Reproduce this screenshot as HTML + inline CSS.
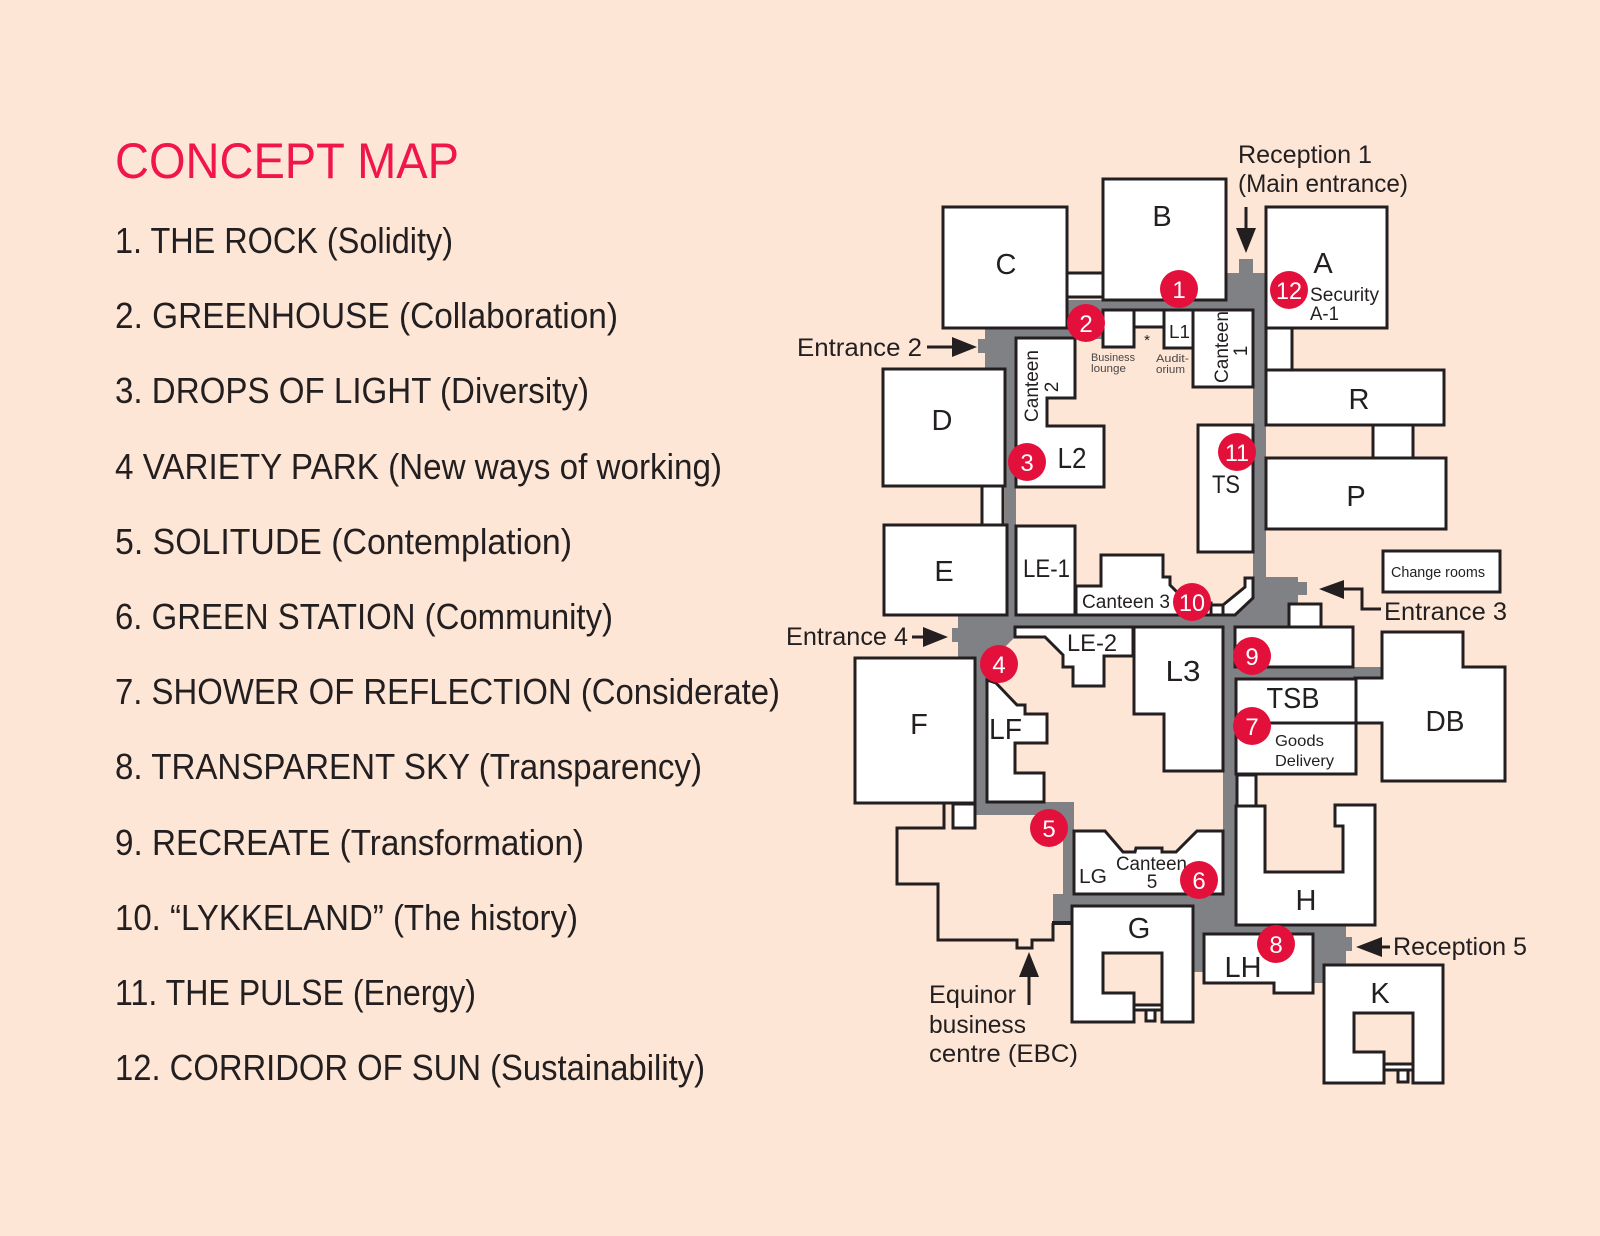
<!DOCTYPE html>
<html><head><meta charset="utf-8"><style>
html,body{margin:0;padding:0;background:#FDE6D6;}
svg{display:block}
text{font-family:"Liberation Sans",sans-serif;fill:#231F20}
</style></head><body>
<svg width="1600" height="1236" viewBox="0 0 1600 1236" xmlns="http://www.w3.org/2000/svg">
<rect width="1600" height="1236" fill="#FDE6D6"/>

<!-- LEFT LIST -->
<text x="115" y="178" font-size="50" textLength="344" lengthAdjust="spacingAndGlyphs" style="fill:#F0164A">CONCEPT MAP</text>
<g font-size="36">
<text x="115" y="253" textLength="338" lengthAdjust="spacingAndGlyphs">1. THE ROCK (Solidity)</text>
<text x="115" y="328" textLength="503" lengthAdjust="spacingAndGlyphs">2. GREENHOUSE (Collaboration)</text>
<text x="115" y="403" textLength="474" lengthAdjust="spacingAndGlyphs">3. DROPS OF LIGHT (Diversity)</text>
<text x="115" y="479" textLength="607" lengthAdjust="spacingAndGlyphs">4 VARIETY PARK (New ways of working)</text>
<text x="115" y="554" textLength="457" lengthAdjust="spacingAndGlyphs">5. SOLITUDE (Contemplation)</text>
<text x="115" y="629" textLength="498" lengthAdjust="spacingAndGlyphs">6. GREEN STATION (Community)</text>
<text x="115" y="704" textLength="665" lengthAdjust="spacingAndGlyphs">7. SHOWER OF REFLECTION (Considerate)</text>
<text x="115" y="779" textLength="587" lengthAdjust="spacingAndGlyphs">8. TRANSPARENT SKY (Transparency)</text>
<text x="115" y="855" textLength="469" lengthAdjust="spacingAndGlyphs">9. RECREATE (Transformation)</text>
<text x="115" y="930" textLength="463" lengthAdjust="spacingAndGlyphs">10. “LYKKELAND” (The history)</text>
<text x="115" y="1005" textLength="361" lengthAdjust="spacingAndGlyphs">11. THE PULSE (Energy)</text>
<text x="115" y="1080" textLength="590" lengthAdjust="spacingAndGlyphs">12. CORRIDOR OF SUN (Sustainability)</text>
</g>

<!-- GRAY CORRIDORS -->
<g fill="#808185">
<rect x="1067" y="300" width="199" height="10"/>
<rect x="1226" y="273" width="40" height="37"/>
<rect x="1239" y="259" width="14" height="16"/>
<rect x="1067" y="300" width="36" height="39"/>
<rect x="985" y="328" width="118" height="11"/>
<rect x="985" y="328" width="31" height="41"/>
<rect x="978" y="339" width="8" height="14"/>
<rect x="1005" y="328" width="11" height="300"/>
<rect x="1253" y="273" width="13" height="330"/>
<polygon points="1253,577 1298,577 1298,582 1307,582 1307,595 1298,595 1298,604 1289,604 1289,627 1211,627 1211,615 1235,615 1253,598"/>
<rect x="958" y="615" width="331" height="12"/>
<polygon points="958,615 1015,615 1015,637 987,665 987,813 975,813 975,658 958,658"/>
<rect x="952" y="628" width="7" height="14"/>
<rect x="975" y="802" width="99" height="13"/>
<rect x="1063" y="802" width="11" height="104"/>
<rect x="1053" y="894" width="183" height="12"/>
<rect x="1053" y="903" width="20" height="20"/>
<rect x="1223" y="615" width="13" height="320"/>
<rect x="1236" y="667" width="146" height="11"/>
<rect x="1193" y="894" width="11" height="78"/>
<rect x="1193" y="894" width="43" height="40"/>
<rect x="1193" y="925" width="153" height="9"/>
<rect x="1313" y="925" width="33" height="40"/>
<rect x="1313" y="925" width="11" height="58"/>
<rect x="1346" y="937" width="6" height="14"/>
</g>

<!-- ROOMS -->
<g fill="#FFFFFF" stroke="#231F20" stroke-width="3" stroke-linejoin="miter">
<rect x="943" y="207" width="124" height="121"/>
<rect x="1103" y="179" width="123" height="121"/>
<rect x="1067" y="273" width="36" height="24"/>
<rect x="1266" y="207" width="121" height="121"/>
<rect x="1266" y="328" width="26" height="42"/>
<rect x="1266" y="370" width="178" height="55"/>
<rect x="1373" y="425" width="40" height="33"/>
<rect x="1266" y="458" width="180" height="71"/>
<rect x="1383" y="551" width="117" height="41"/>
<rect x="1103" y="310" width="31" height="37"/>
<rect x="1134" y="310" width="30" height="17"/>
<rect x="1164" y="310" width="29" height="38"/>
<rect x="1193" y="310" width="60" height="77"/>
<polygon points="1016,338 1075,338 1075,398 1047,398 1047,426 1104,426 1104,487 1016,487"/>
<rect x="883" y="369" width="122" height="117"/>
<rect x="982" y="486" width="21" height="39"/>
<rect x="884" y="525" width="123" height="90"/>
<rect x="1016" y="526" width="59" height="89"/>
<polygon points="1076,586 1101,586 1101,555 1163,555 1163,577 1170,577 1170,585 1188,603 1211,603 1211,615 1076,615"/>
<rect x="1211" y="605" width="12" height="10"/>
<polygon points="1223,605 1245,587 1245,578 1253,578 1253,598 1235,615 1223,615"/>
<rect x="1198" y="425" width="55" height="127"/>
<rect x="1289" y="604" width="32" height="23"/>
<rect x="1235" y="627" width="118" height="40"/>
<polygon points="1382,632 1463,632 1463,667 1505,667 1505,781 1382,781 1382,723 1355,723 1355,678 1382,678"/>
<rect x="1236" y="679" width="120" height="44"/>
<rect x="1236" y="723" width="120" height="51"/>
<rect x="1237" y="775" width="19" height="31"/>
<polygon points="1236,806 1265,806 1265,872 1343,872 1343,826 1335,826 1335,805 1375,805 1375,925 1236,925"/>
<polygon points="1204,934 1313,934 1313,993 1274,993 1274,983 1204,983"/>
<polygon points="1324,965 1443,965 1443,1083 1413,1083 1413,1013 1354,1013 1354,1052 1384,1052 1384,1083 1324,1083"/>
<rect x="1384" y="1064" width="29" height="6"/>
<rect x="1398" y="1070" width="10" height="12"/>
<polygon points="1072,906 1193,906 1193,1022 1162,1022 1162,953 1103,953 1103,993 1134,993 1134,1022 1072,1022"/>
<rect x="1134" y="1005" width="28" height="5"/>
<rect x="1146" y="1010" width="9" height="11"/>
<polygon points="1074,831 1105,831 1123,852 1135,852 1136,848 1162,848 1162,852 1176,852 1197,831 1223,831 1223,894 1074,894"/>
<polygon points="1134,627 1223,627 1223,771 1164,771 1164,714 1134,714"/>
<polygon points="1015,627 1133,627 1133,656 1104,656 1104,686 1073,686 1073,667 1063,667 1063,655 1045,637 1015,637"/>
<polygon points="987,680 996,683 1017,705 1025,705 1025,714 1047,714 1047,743 1015,743 1015,773 1044,773 1044,802 987,802"/>
<rect x="855" y="658" width="120" height="145"/>
<rect x="953" y="804" width="22" height="24"/>
</g>
<polyline points="944,803 944,828 897,828 897,884 938,884 938,940 1017,940 1017,948 1032,948 1032,940 1053,940 1053,923" fill="none" stroke="#231F20" stroke-width="3"/>
<line x1="1052" y1="923" x2="1073" y2="923" stroke="#231F20" stroke-width="4"/>

<!-- ARROWS -->
<g stroke="#231F20" stroke-width="3" fill="none">
<line x1="1246" y1="207" x2="1246" y2="230"/>
<line x1="927" y1="347" x2="954" y2="347"/>
<line x1="912" y1="637" x2="925" y2="637"/>
<polyline points="1342,589 1362,589 1362,609 1381,609"/>
<line x1="1380" y1="947" x2="1390" y2="947"/>
<line x1="1029" y1="975" x2="1029" y2="1005"/>
</g>
<g fill="#231F20">
<polygon points="1236,228 1256,228 1246,253"/>
<polygon points="952,337 977,347 952,357"/>
<polygon points="923,627 948,637 923,647"/>
<polygon points="1344,580 1319,589 1344,599"/>
<polygon points="1382,937 1356,947 1382,957"/>
<polygon points="1019,977 1039,977 1029,952"/>
</g>

<!-- BIG LABELS -->
<g font-size="29" text-anchor="middle">
<text x="1162" y="226">B</text>
<text x="1006" y="274">C</text>
<text x="1323" y="273">A</text>
<text x="1359" y="409">R</text>
<text x="1356" y="506">P</text>
<text x="942" y="430">D</text>
<text x="944" y="581">E</text>
<text x="919" y="734">F</text>
<text x="1139" y="938">G</text>
<text x="1306" y="910">H</text>
<text x="1380" y="1003">K</text>
<text x="1445" y="731" textLength="39" lengthAdjust="spacingAndGlyphs">DB</text>
<text x="1293" y="708" textLength="53" lengthAdjust="spacingAndGlyphs">TSB</text>
<text x="1183" y="681" textLength="35" lengthAdjust="spacingAndGlyphs">L3</text>
<text x="1072" y="468" textLength="29" lengthAdjust="spacingAndGlyphs">L2</text>
<text x="1243" y="977" textLength="37" lengthAdjust="spacingAndGlyphs">LH</text>
</g>
<text x="989" y="739" font-size="29" textLength="33" lengthAdjust="spacingAndGlyphs">LF</text>
<text x="1212" y="493" font-size="25" textLength="28" lengthAdjust="spacingAndGlyphs">TS</text>
<text x="1023" y="577" font-size="25" textLength="47" lengthAdjust="spacingAndGlyphs">LE-1</text>
<text x="1067" y="651" font-size="24" textLength="50" lengthAdjust="spacingAndGlyphs">LE-2</text>
<text x="1079" y="883" font-size="20" textLength="28" lengthAdjust="spacingAndGlyphs">LG</text>
<text x="1169" y="338" font-size="18" textLength="21" lengthAdjust="spacingAndGlyphs">L1</text>

<!-- SMALL LABELS -->
<text x="1082" y="608" font-size="19" textLength="88" lengthAdjust="spacingAndGlyphs">Canteen 3</text>
<text x="1116" y="870" font-size="19" textLength="71" lengthAdjust="spacingAndGlyphs">Canteen</text>
<text x="1152" y="888" font-size="19" text-anchor="middle">5</text>
<text transform="translate(1228,347) rotate(-90)" font-size="19" text-anchor="middle" textLength="72" lengthAdjust="spacingAndGlyphs">Canteen</text>
<text transform="translate(1247,351) rotate(-90)" font-size="19" text-anchor="middle">1</text>
<text transform="translate(1038,386) rotate(-90)" font-size="19" text-anchor="middle" textLength="72" lengthAdjust="spacingAndGlyphs">Canteen</text>
<text transform="translate(1058,387) rotate(-90)" font-size="19" text-anchor="middle">2</text>
<text x="1310" y="301" font-size="19" textLength="69" lengthAdjust="spacingAndGlyphs">Security</text>
<text x="1310" y="320" font-size="19" textLength="29" lengthAdjust="spacingAndGlyphs">A-1</text>
<g font-size="11" style="fill:#4a4546">
<text x="1091" y="361" textLength="44" lengthAdjust="spacingAndGlyphs" style="fill:#4a4546">Business</text>
<text x="1091" y="372" textLength="35" lengthAdjust="spacingAndGlyphs" style="fill:#4a4546">lounge</text>
<text x="1156" y="362" textLength="33" lengthAdjust="spacingAndGlyphs" style="fill:#4a4546">Audit-</text>
<text x="1156" y="373" textLength="29" lengthAdjust="spacingAndGlyphs" style="fill:#4a4546">orium</text>
</g>
<text x="1147" y="345" font-size="15" text-anchor="middle">*</text>
<text x="1275" y="746" font-size="16" textLength="49" lengthAdjust="spacingAndGlyphs">Goods</text>
<text x="1275" y="766" font-size="16" textLength="59" lengthAdjust="spacingAndGlyphs">Delivery</text>
<text x="1391" y="577" font-size="15" textLength="94" lengthAdjust="spacingAndGlyphs">Change rooms</text>

<!-- ENTRANCE LABELS -->
<g font-size="25">
<text x="1238" y="163" textLength="134" lengthAdjust="spacingAndGlyphs">Reception 1</text>
<text x="1238" y="192" textLength="170" lengthAdjust="spacingAndGlyphs">(Main entrance)</text>
<text x="797" y="356" textLength="125" lengthAdjust="spacingAndGlyphs">Entrance 2</text>
<text x="786" y="645" textLength="122" lengthAdjust="spacingAndGlyphs">Entrance 4</text>
<text x="1384" y="620" textLength="123" lengthAdjust="spacingAndGlyphs">Entrance 3</text>
<text x="1393" y="955" textLength="134" lengthAdjust="spacingAndGlyphs">Reception 5</text>
<text x="929" y="1003" textLength="87" lengthAdjust="spacingAndGlyphs">Equinor</text>
<text x="929" y="1033" textLength="97" lengthAdjust="spacingAndGlyphs">business</text>
<text x="929" y="1062" textLength="149" lengthAdjust="spacingAndGlyphs">centre (EBC)</text>
</g>

<!-- RED CIRCLES -->
<g fill="#E4103C">
<circle cx="1179" cy="289" r="19"/>
<circle cx="1086" cy="323" r="19"/>
<circle cx="1027" cy="462" r="19"/>
<circle cx="999" cy="664" r="19"/>
<circle cx="1049" cy="828" r="19"/>
<circle cx="1199" cy="880" r="19"/>
<circle cx="1252" cy="726" r="19"/>
<circle cx="1276" cy="944" r="19"/>
<circle cx="1252" cy="656" r="19"/>
<circle cx="1192" cy="602" r="19"/>
<circle cx="1237" cy="452" r="19"/>
<circle cx="1289" cy="290" r="19"/>
</g>
<g font-size="24" text-anchor="middle" style="fill:#fff">
<text x="1179" y="298" style="fill:#fff">1</text>
<text x="1086" y="332" style="fill:#fff">2</text>
<text x="1027" y="471" style="fill:#fff">3</text>
<text x="999" y="673" style="fill:#fff">4</text>
<text x="1049" y="837" style="fill:#fff">5</text>
<text x="1199" y="889" style="fill:#fff">6</text>
<text x="1252" y="735" style="fill:#fff">7</text>
<text x="1276" y="953" style="fill:#fff">8</text>
<text x="1252" y="665" style="fill:#fff">9</text>
<text x="1192" y="611" style="fill:#fff" textLength="26" lengthAdjust="spacingAndGlyphs">10</text>
<text x="1237" y="461" style="fill:#fff" textLength="24" lengthAdjust="spacingAndGlyphs">11</text>
<text x="1289" y="299" style="fill:#fff" textLength="26" lengthAdjust="spacingAndGlyphs">12</text>
</g>
</svg>
</body></html>
